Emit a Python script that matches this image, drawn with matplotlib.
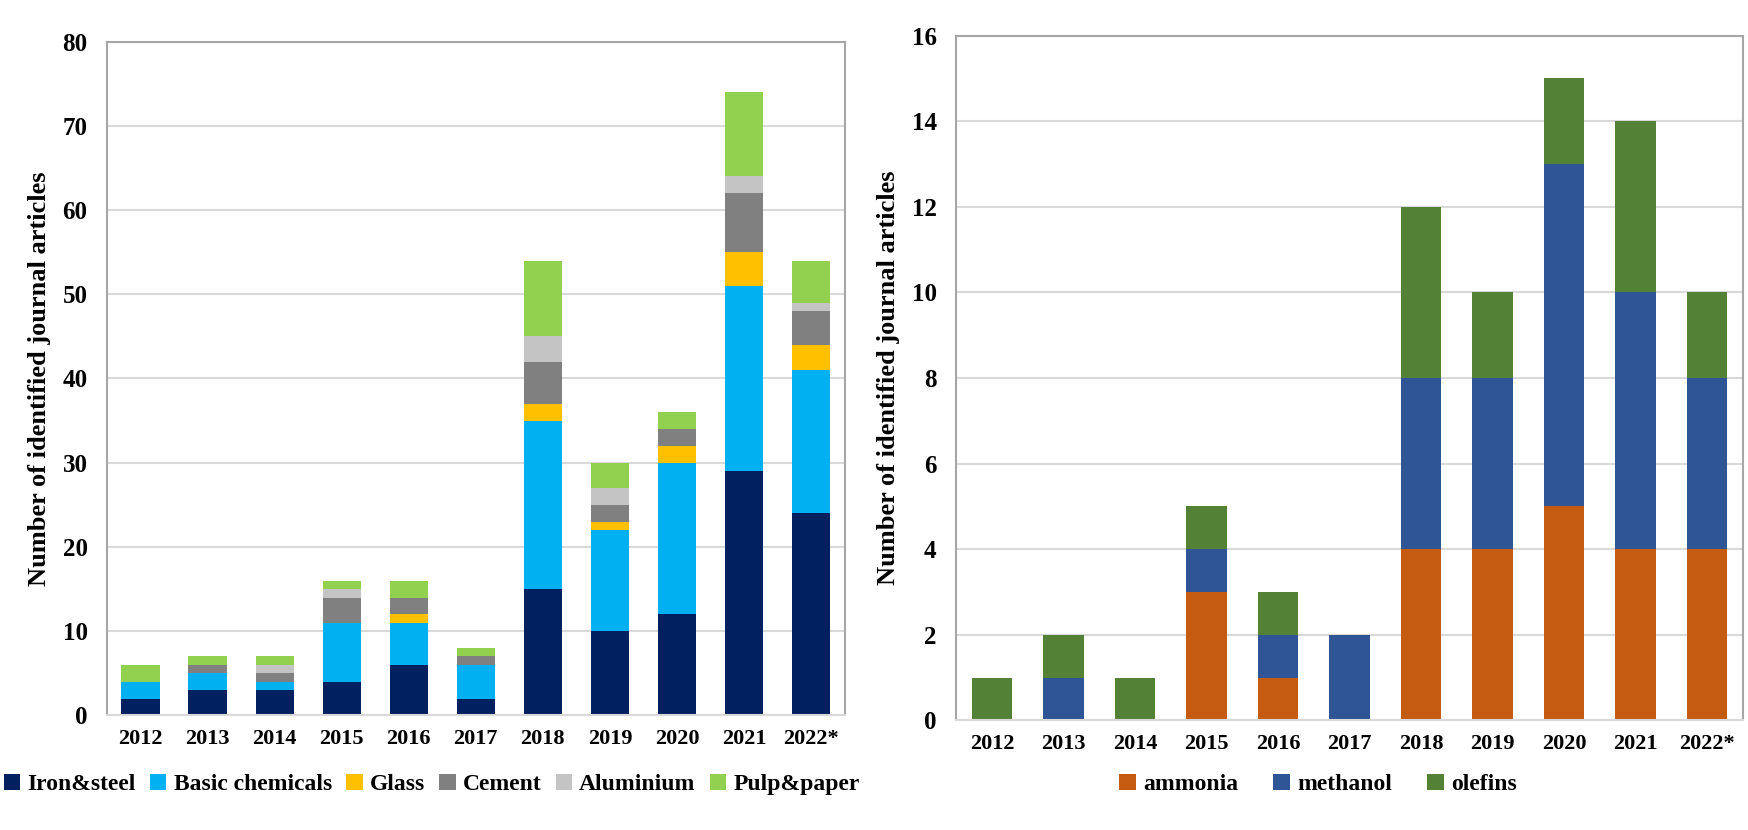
import matplotlib
matplotlib.use('Agg')
import matplotlib.pyplot as plt
import numpy as np

years = ['2012', '2013', '2014', '2015', '2016', '2017', '2018', '2019', '2020', '2021', '2022*']

# left chart: sectors
iron_steel = [2, 3, 3, 4, 6, 2, 15, 10, 12, 29, 24]
basic_chem = [2, 2, 1, 7, 5, 4, 20, 12, 18, 22, 17]
glass = [0, 0, 0, 0, 1, 0, 2, 1, 2, 4, 3]
cement = [0, 1, 1, 3, 2, 1, 5, 2, 2, 7, 4]
aluminium = [0, 0, 1, 1, 0, 0, 3, 2, 0, 2, 1]
pulp_paper = [2, 1, 1, 1, 2, 1, 9, 3, 2, 10, 5]

sector_names = ['Iron&steel', 'Basic chemicals', 'Glass', 'Cement', 'Aluminium', 'Pulp&paper']
sector_colors = ['#002060', '#00B0F0', '#FFC000', '#808080', '#C4C4C4', '#92D050']

# right chart: chemicals
ammonia = [0, 0, 0, 3, 1, 0, 4, 4, 5, 4, 4]
methanol = [0, 1, 0, 1, 1, 2, 4, 4, 8, 6, 4]
olefins = [1, 1, 1, 1, 1, 0, 4, 2, 2, 4, 2]

chem_names = ['ammonia', 'methanol', 'olefins']
chem_colors = ['#C55A11', '#2F5597', '#538135']

plt.rcParams['font.family'] = ['Liberation Serif', 'DejaVu Serif']
plt.rcParams['font.weight'] = 'bold'

fig = plt.figure(figsize=(17.48, 8.30), dpi=100)
ax1 = fig.add_axes([0.0612, 0.138, 0.422, 0.812])
ax2 = fig.add_axes([0.547, 0.132, 0.450, 0.825])

x = np.arange(len(years))
width = 0.57


def style_axis(ax, ymax, step):
    ax.set_xlim(-0.5, len(years) - 0.5)
    ax.set_ylim(0, ymax)
    ax.set_yticks(np.arange(0, ymax + step / 2, step))
    ax.yaxis.grid(True, color='#D9D9D9', linewidth=1.5)
    ax.set_axisbelow(True)
    for s in ['left', 'top', 'right']:
        ax.spines[s].set_color('#A6A6A6')
        ax.spines[s].set_linewidth(1.5)
    ax.spines['bottom'].set_color('#D9D9D9')
    ax.spines['bottom'].set_linewidth(1.5)
    ax.tick_params(axis='x', length=0, labelsize=16, pad=10)
    ax.tick_params(axis='y', length=0, labelsize=18, pad=14)
    ax.set_xticks(x)
    ax.set_xticklabels(years)
    for lbl in ax.get_xticklabels() + ax.get_yticklabels():
        lbl.set_fontweight('bold')
    ax.set_ylabel('Number of identified journal articles', fontsize=19, fontweight='bold', labelpad=8)


bottom = np.zeros(len(years))
for vals, name, col in zip([iron_steel, basic_chem, glass, cement, aluminium, pulp_paper], sector_names, sector_colors):
    ax1.bar(x, vals, width, bottom=bottom, color=col, label=name)
    bottom += np.array(vals)
style_axis(ax1, 80, 10)

bottom = np.zeros(len(years))
for vals, name, col in zip([ammonia, methanol, olefins], chem_names, chem_colors):
    ax2.bar(x, vals, width, bottom=bottom, color=col, label=name)
    bottom += np.array(vals)
style_axis(ax2, 16, 2)

leg_kw = dict(frameon=False, handlelength=0.7, handleheight=0.7, handletextpad=0.3,
              prop={'family': 'Liberation Serif', 'weight': 'bold', 'size': 17})
h1, l1 = ax1.get_legend_handles_labels()
fig.legend(h1, l1, loc='center', bbox_to_anchor=(0.247, 0.055), ncol=6, columnspacing=0.6, **leg_kw)
h2, l2 = ax2.get_legend_handles_labels()
fig.legend(h2, l2, loc='center', bbox_to_anchor=(0.754, 0.055), ncol=3, columnspacing=1.5, **leg_kw)

fig.savefig('out.png', dpi=100)
